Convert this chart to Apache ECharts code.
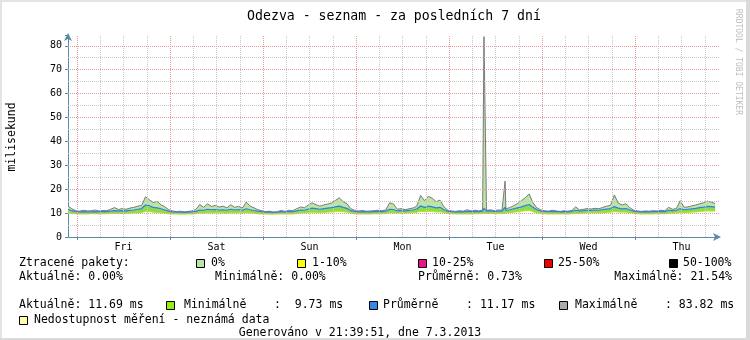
<!DOCTYPE html>
<html>
<head>
<meta charset="utf-8">
<script src="https://cdn.jsdelivr.net/npm/echarts@6/dist/echarts.min.js"></script>
<style>
  html, body { margin: 0; padding: 0; background: #ffffff; }
  #chart { width: 750px; height: 340px; }
</style>
</head>
<body>
<div id="chart"></div>
<script>
// Hours since the start of the 7-day window (Thu 28.2.2013 21:40)
const hours = [
  0,1,2,3,4,5,6,7,8,9,10,11,12,13,14,15,16,17,18,19,
  20,21,22,23,24,25,26,27,28,29,30,31,32,33,34,35,36,37,38,39,
  40,41,42,43,44,45,46,47,48,49,50,51,52,53,54,55,56,57,58,59,
  60,61,62,63,64,65,66,67,68,69,70,71,72,73,74,75,76,77,78,79,
  80,81,82,83,84,85,86,87,88,89,90,91,92,93,94,95,96,97,98,99,
  100,101,102,103,104,105,106,107,107.35,108,109,110,111,112,112.8,
  113,114,115,116,117,118,119,120,121,122,123,124,125,126,127,128,129,
  130,131,132,133,134,135,136,137,138,139,140,141,142,143,144,145,146,147,148,149,
  150,151,152,153,154,155,156,157,158,159,160,161,162,163,164,165,166,167
];

// Round-trip times in milliseconds
const minMs = [
  10.3,10.0,9.9,9.8,9.9,9.8,9.9,9.9,9.8,9.9,
  9.9,10.0,10.1,10.0,10.1,10.0,10.1,10.2,10.3,10.4,
  11.0,10.9,10.6,10.5,10.3,10.1,9.9,9.8,9.8,9.7,
  9.7,9.8,9.8,9.9,10.2,10.1,10.3,10.2,10.3,10.2,
  10.2,10.1,10.3,10.2,10.2,10.1,10.4,10.2,10.1,9.9,
  9.8,9.8,9.7,9.7,9.8,9.8,9.8,9.9,9.8,10.0,
  10.2,10.2,10.4,10.6,10.5,10.4,10.5,10.6,10.7,10.9,
  11.0,10.8,10.6,10.1,9.9,9.8,9.8,9.8,9.8,9.9,
  9.9,9.9,10.0,10.3,10.3,10.1,10.2,10.1,10.2,10.3,
  10.5,11.0,10.8,11.0,10.9,10.7,10.7,10.4,10.0,9.9,
  9.8,9.9,9.8,9.9,9.8,9.9,9.9,10.0,10.0,
  10.0,10.1,9.9,10.0,10.0,10.1,
  10.2,10.4,10.6,10.8,11.0,11.2,11.4,
  10.8,10.3,10.0,9.9,9.8,9.9,9.8,9.8,9.8,9.8,
  9.9,10.1,10.0,10.1,10.2,10.2,10.3,10.3,10.4,10.5,
  10.6,10.9,10.7,10.6,10.6,10.3,10.0,9.9,9.8,9.8,
  9.8,9.8,9.9,9.9,9.9,10.1,10.1,10.2,10.5,10.4,
  10.5,10.6,10.7,10.9,11.0,11.2,11.1,11.0
];
const avgMs = [
  11.6,11.0,10.6,10.5,10.6,10.5,10.5,10.6,10.5,10.6,
  10.6,10.8,11.0,10.9,11.0,10.9,11.1,11.3,11.6,11.9,
  13.4,13.1,12.4,12.2,11.8,11.3,10.8,10.5,10.4,10.4,
  10.3,10.4,10.5,10.7,11.3,11.2,11.6,11.4,11.5,11.3,
  11.4,11.2,11.6,11.3,11.5,11.2,11.8,11.4,11.1,10.8,
  10.6,10.4,10.5,10.3,10.4,10.6,10.5,10.6,10.6,10.9,
  11.3,11.2,11.7,12.1,11.9,11.6,11.9,12.1,12.3,12.6,
  12.9,12.4,12.0,11.0,10.7,10.5,10.6,10.5,10.5,10.6,
  10.7,10.6,10.8,11.6,11.5,10.9,11.1,10.9,11.1,11.3,
  11.7,13.0,12.4,12.9,12.6,12.2,12.4,11.4,10.8,10.6,
  10.5,10.6,10.5,10.7,10.6,10.7,10.6,10.8,12.0,
  10.8,10.9,10.7,10.8,10.8,12.5,
  11.1,11.4,11.8,12.2,12.6,13.1,13.6,
  12.4,11.4,10.9,10.7,10.6,10.7,10.6,10.5,10.6,10.5,
  10.7,11.2,10.9,11.0,11.2,11.1,11.3,11.2,11.5,11.7,
  11.9,12.7,12.1,11.8,11.9,11.3,10.8,10.6,10.5,10.6,
  10.5,10.6,10.6,10.7,10.6,11.2,11.0,11.2,11.9,11.4,
  11.6,11.8,12.0,12.3,12.5,12.8,12.7,12.5
];
const maxMs = [
  13.0,11.8,11.0,10.8,11.2,10.9,11.0,11.3,10.9,11.1,
  11.0,11.6,12.3,11.5,11.9,11.6,12.1,12.4,12.9,13.2,
  16.8,15.6,14.4,14.9,13.5,12.6,11.4,10.9,10.6,10.8,
  10.5,10.7,10.9,11.5,13.6,12.4,13.9,12.8,13.2,12.5,
  12.9,12.2,13.5,12.4,12.8,12.1,14.6,12.9,12.2,11.4,
  11.0,10.6,10.8,10.4,10.6,11.1,10.7,11.2,11.0,11.8,
  12.6,12.2,13.4,14.3,13.5,12.9,13.4,13.8,14.2,15.3,
  16.4,14.8,13.9,11.8,11.2,10.9,11.1,10.8,10.9,11.0,
  11.2,11.0,11.3,14.3,13.8,11.6,11.9,11.4,11.8,12.1,
  12.9,17.4,15.2,17.0,16.2,14.8,15.4,12.6,11.2,10.9,
  10.7,11.0,10.8,11.4,10.9,11.2,10.9,11.3,83.82,
  11.1,11.4,11.0,11.3,11.2,23.4,
  11.8,12.3,13.1,14.0,15.2,16.4,18.0,
  14.3,12.2,11.3,11.0,10.8,11.2,10.9,10.7,11.0,10.8,
  11.1,12.6,11.3,11.6,11.9,11.7,12.0,11.8,12.4,12.9,
  13.2,17.6,14.1,13.4,13.9,12.2,11.2,10.9,10.7,10.9,
  10.8,11.0,10.9,11.2,11.0,12.4,11.6,11.9,15.2,12.4,
  12.6,13.0,13.4,13.9,14.3,15.0,14.6,14.0
];

// Axis ticks and labels
const yTickValues = [0, 10, 20, 30, 40, 50, 60, 70, 80];
const yMinorGrid = [5, 15, 25, 35, 45, 55, 65, 75];
const yMajorGrid = [10, 20, 30, 40, 50, 60, 70, 80];
const dayLabels = ['Fri', 'Sat', 'Sun', 'Mon', 'Tue', 'Wed', 'Thu'];
const noonHours = [14.33, 38.33, 62.33, 86.33, 110.33, 134.33, 158.33];
const midnightHours = [2.33, 26.33, 50.33, 74.33, 98.33, 122.33, 146.33];
const sixHourGrid = [
  8.33, 14.33, 20.33, 32.33, 38.33, 44.33, 56.33, 62.33, 68.33,
  80.33, 86.33, 92.33, 104.33, 110.33, 116.33, 128.33, 134.33, 140.33,
  152.33, 158.33, 164.33
];

// Legend texts
const titleText = 'Odezva - seznam - za posledních 7 dní';
const lossHeader = 'Ztracené pakety:';
const lossClasses = ['0%', '1-10%', '10-25%', '25-50%', '50-100%'];
const lossColors = ['#b9e6a3', '#ffff00', '#ee1188', '#ee0000', '#000000'];
const lossStats = ['Aktuálně: 0.00%', 'Minimálně: 0.00%', 'Průměrně: 0.73%', 'Maximálně: 21.54%'];
const rttCurrent = 'Aktuálně: 11.69 ms';
const rttStats = ['Minimálně    :  9.73 ms', 'Průměrně    : 11.17 ms', 'Maximálně    : 83.82 ms'];
const unknownText = 'Nedostupnost měření - neznámá data';
const footerText = 'Generováno v 21:39:51, dne 7.3.2013';

const MONO = '"DejaVu Sans Mono", monospace';
const AXIS_COLOR = '#5a8aa5';
const C_MIN = '#b2ee1e';
const C_MINBAND = '#8cd952';
const C_AVG = '#2f7fe6';
const C_MAXBAND = '#bde6a6';
const C_MAX = '#7a7a7a';

// data sits on a hidden time axis (so the bands stack per sample);
// the visible axis below is a plain hour scale over the same span
const T0 = Date.UTC(2013, 1, 28, 21, 40);
const HOUR = 3600 * 1000;
const t = h => T0 + h * HOUR;

const minPts = hours.map((h, i) => [t(h), minMs[i]]);
const avgBand = hours.map((h, i) => [t(h), +(avgMs[i] - minMs[i]).toFixed(3)]);
const maxBand = hours.map((h, i) => [t(h), +(maxMs[i] - avgMs[i]).toFixed(3)]);

const gridDash = [1, 1];
const gridLines = [];
sixHourGrid.forEach(v => gridLines.push({ xAxis: v, lineStyle: { color: '#c8c8c8', type: gridDash, width: 1 } }));
yMinorGrid.forEach(v => gridLines.push({ yAxis: v, lineStyle: { color: '#c4c4c4', type: gridDash, width: 1 } }));
midnightHours.forEach(v => gridLines.push({ xAxis: v, lineStyle: { color: '#e99a9a', type: gridDash, width: 1 } }));
yMajorGrid.forEach(v => gridLines.push({ yAxis: v, lineStyle: { color: '#e99a9a', type: gridDash, width: 1 } }));

function txt(text, x, y, opts) {
  opts = opts || {};
  return {
    type: 'text', x: x, y: y, rotation: opts.rotation || 0, silent: true, z: 50,
    style: {
      text: text,
      font: (opts.size || 11.5) + 'px ' + MONO,
      fill: opts.fill || '#000000',
      align: opts.align || 'left',
      verticalAlign: 'middle'
    }
  };
}
function box(x, y, color) {
  return {
    type: 'rect', silent: true, z: 50,
    shape: { x: x + 0.5, y: y + 0.5, width: 8, height: 8 },
    style: { fill: color, stroke: '#000000', lineWidth: 1 }
  };
}

const graphics = [
  // frame
  { type: 'rect', silent: true, z: 1, shape: { x: 0, y: 0, width: 750, height: 2 }, style: { fill: '#e4e4e4' } },
  { type: 'rect', silent: true, z: 1, shape: { x: 0, y: 0, width: 2, height: 340 }, style: { fill: '#e4e4e4' } },
  { type: 'rect', silent: true, z: 1, shape: { x: 746, y: 0, width: 4, height: 340 }, style: { fill: '#dadada' } },
  { type: 'rect', silent: true, z: 1, shape: { x: 0, y: 338, width: 750, height: 2 }, style: { fill: '#dadada' } },
  txt(titleText, 394, 17, { size: 13.2, align: 'center' }),
  txt('milisekund', 12, 137, { rotation: Math.PI / 2, align: 'center' }),
  txt('RRDTOOL / TOBI OETIKER', 738, 62, { rotation: -Math.PI / 2, align: 'center', size: 8, fill: '#bdbdbd' }),
  // packet loss row
  txt(lossHeader, 19, 263),
  box(196, 259, lossColors[0]), txt(lossClasses[0], 211, 263),
  box(297, 259, lossColors[1]), txt(lossClasses[1], 312, 263),
  box(418, 259, lossColors[2]), txt(lossClasses[2], 432, 263),
  box(544, 259, lossColors[3]), txt(lossClasses[3], 558, 263),
  box(669, 259, lossColors[4]), txt(lossClasses[4], 683, 263),
  txt(lossStats[0], 19, 277),
  txt(lossStats[1], 215, 277),
  txt(lossStats[2], 418, 277),
  txt(lossStats[3], 732, 277, { align: 'right' }),
  // round-trip row
  txt(rttCurrent, 19, 305),
  box(166, 301, '#99ee11'), txt(rttStats[0], 184, 305),
  box(369, 301, '#3388ee'), txt(rttStats[1], 383, 305),
  box(559, 301, '#aaaaaa'), txt(rttStats[2], 575, 305),
  box(19, 316, '#ffffaa'), txt(unknownText, 34, 320),
  txt(footerText, 360, 333, { align: 'center' })
];

const chart = echarts.init(document.getElementById('chart'), null, { renderer: 'canvas' });
chart.setOption({
  animation: false,
  useUTC: true,
  backgroundColor: '#ffffff',
  grid: { left: 68, right: 31, top: 35, bottom: 103, containLabel: false },
  xAxis: [
    {
      type: 'time', min: t(0), max: t(168), show: false, position: 'bottom'
    },
    {
      type: 'value', min: 0, max: 168, position: 'bottom',
      axisLine: {
        show: true, onZero: false,
        lineStyle: { color: AXIS_COLOR, width: 1 },
        symbol: ['none', 'arrow'], symbolSize: [6, 8], symbolOffset: [0, 2]
      },
      axisTick: { show: true, customValues: midnightHours, length: 3, inside: false, lineStyle: { color: AXIS_COLOR } },
      axisLabel: {
        show: true, customValues: noonHours, margin: 5,
        fontFamily: MONO, fontSize: 10, color: '#000000',
        formatter: function (v) {
          let best = 0;
          noonHours.forEach((n, i) => { if (Math.abs(n - v) < Math.abs(noonHours[best] - v)) best = i; });
          return dayLabels[best];
        }
      },
      splitLine: { show: false }
    }
  ],
  yAxis: {
    type: 'value', min: 0, max: 84.5, interval: 10,
    axisLine: {
      show: true, onZero: false,
      lineStyle: { color: AXIS_COLOR, width: 1 },
      symbol: ['none', 'arrow'], symbolSize: [6, 8], symbolOffset: [0, 2]
    },
    axisTick: { show: true, length: 3, lineStyle: { color: AXIS_COLOR } },
    axisLabel: {
      show: true, margin: 6, fontFamily: MONO, fontSize: 10, color: '#000000',
      formatter: function (v) { return yTickValues.indexOf(v) >= 0 ? String(v) : ''; }
    },
    splitLine: { show: false }
  },
  graphic: graphics,
  series: [
    {
      name: 'grid', type: 'line', xAxisIndex: 1, data: [], z: 1, silent: true,
      markLine: { silent: true, symbol: 'none', label: { show: false }, animation: false, data: gridLines }
    },
    {
      name: 'Minimálně', type: 'line', xAxisIndex: 0, stack: 'rtt', data: minPts, z: 3,
      symbol: 'none', lineStyle: { color: C_MIN, width: 2 }
    },
    {
      name: 'Průměrně', type: 'line', xAxisIndex: 0, stack: 'rtt', data: avgBand, z: 4,
      symbol: 'none', lineStyle: { color: C_AVG, width: 1.2 },
      areaStyle: { color: C_MINBAND, opacity: 1 }
    },
    {
      name: 'Maximálně', type: 'line', xAxisIndex: 0, stack: 'rtt', data: maxBand, z: 2,
      symbol: 'none', lineStyle: { color: C_MAX, width: 1 },
      areaStyle: { color: C_MAXBAND, opacity: 1 }
    }
  ]
});
</script>
</body>
</html>
